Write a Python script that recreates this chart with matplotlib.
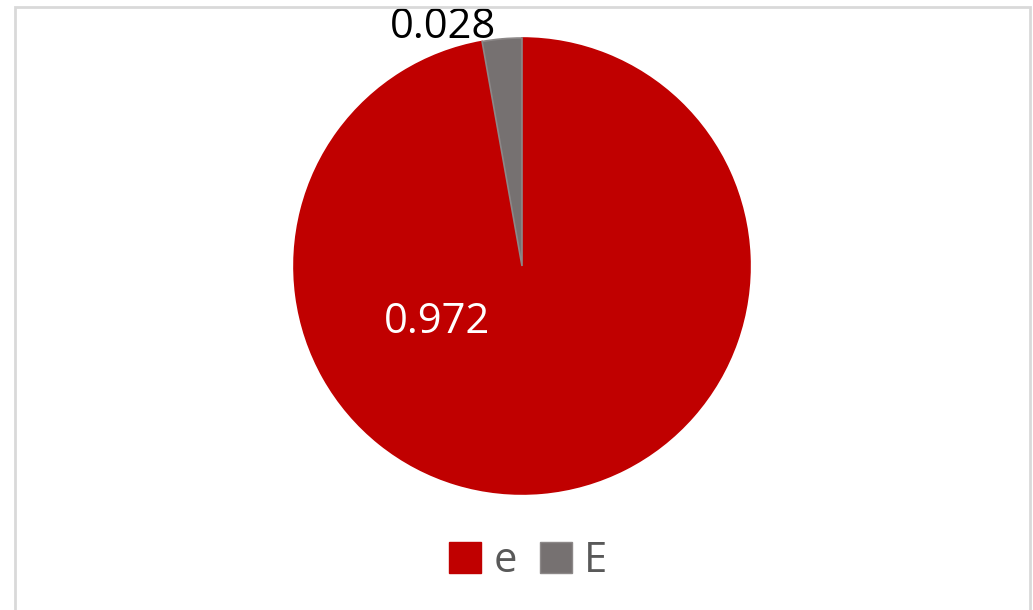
import matplotlib.pyplot as plt
from matplotlib.patches import Patch, Rectangle

labels = ["e", "E"]
values = [0.972, 0.028]
colors = ["#C00000", "#767171"]
edges = ["#C00000", "#8C8888"]

plt.rcParams['font.family'] = ['Open Sans', 'DejaVu Sans']

fig = plt.figure(figsize=(10.33, 6.1), dpi=100)
fig.patches.append(Rectangle((15 / 1033, -0.05), (1030 - 15) / 1033, 1.05 - 7 / 610,
                             transform=fig.transFigure, fill=False,
                             edgecolor="#D9D9D9", linewidth=2))

ax = fig.add_axes([(522 - 228) / 1033, (610 - 494) / 610, 456 / 1033, 456 / 610])
wedges, _ = ax.pie(values, colors=colors, startangle=90, counterclock=False,
                   radius=1.0, wedgeprops=dict(linewidth=1.2))
for w, ec in zip(wedges, edges):
    w.set_edgecolor(ec)
ax.set_xlim(-1, 1)
ax.set_ylim(-1, 1)
ax.set_aspect("auto")

ax.text(-0.346, 1.05, f"{values[1]:.3f}", ha="center", va="center",
        fontsize=30, color="black", clip_on=False)
ax.text(-0.373, -0.246, f"{values[0]:.3f}", ha="center", va="center",
        fontsize=30, color="white")

handles = [Patch(facecolor=c, edgecolor=ec) for c, ec in zip(colors, edges)]
leg = fig.legend(handles, labels, loc="center", bbox_to_anchor=(528 / 1033, (610 - 561) / 610),
                 ncol=2, frameon=False, fontsize=30, handlelength=0.77, handleheight=0.77,
                 handletextpad=0.3, columnspacing=0.55)
for t in leg.get_texts():
    t.set_color("#595959")

fig.savefig("out.png", dpi=100)
